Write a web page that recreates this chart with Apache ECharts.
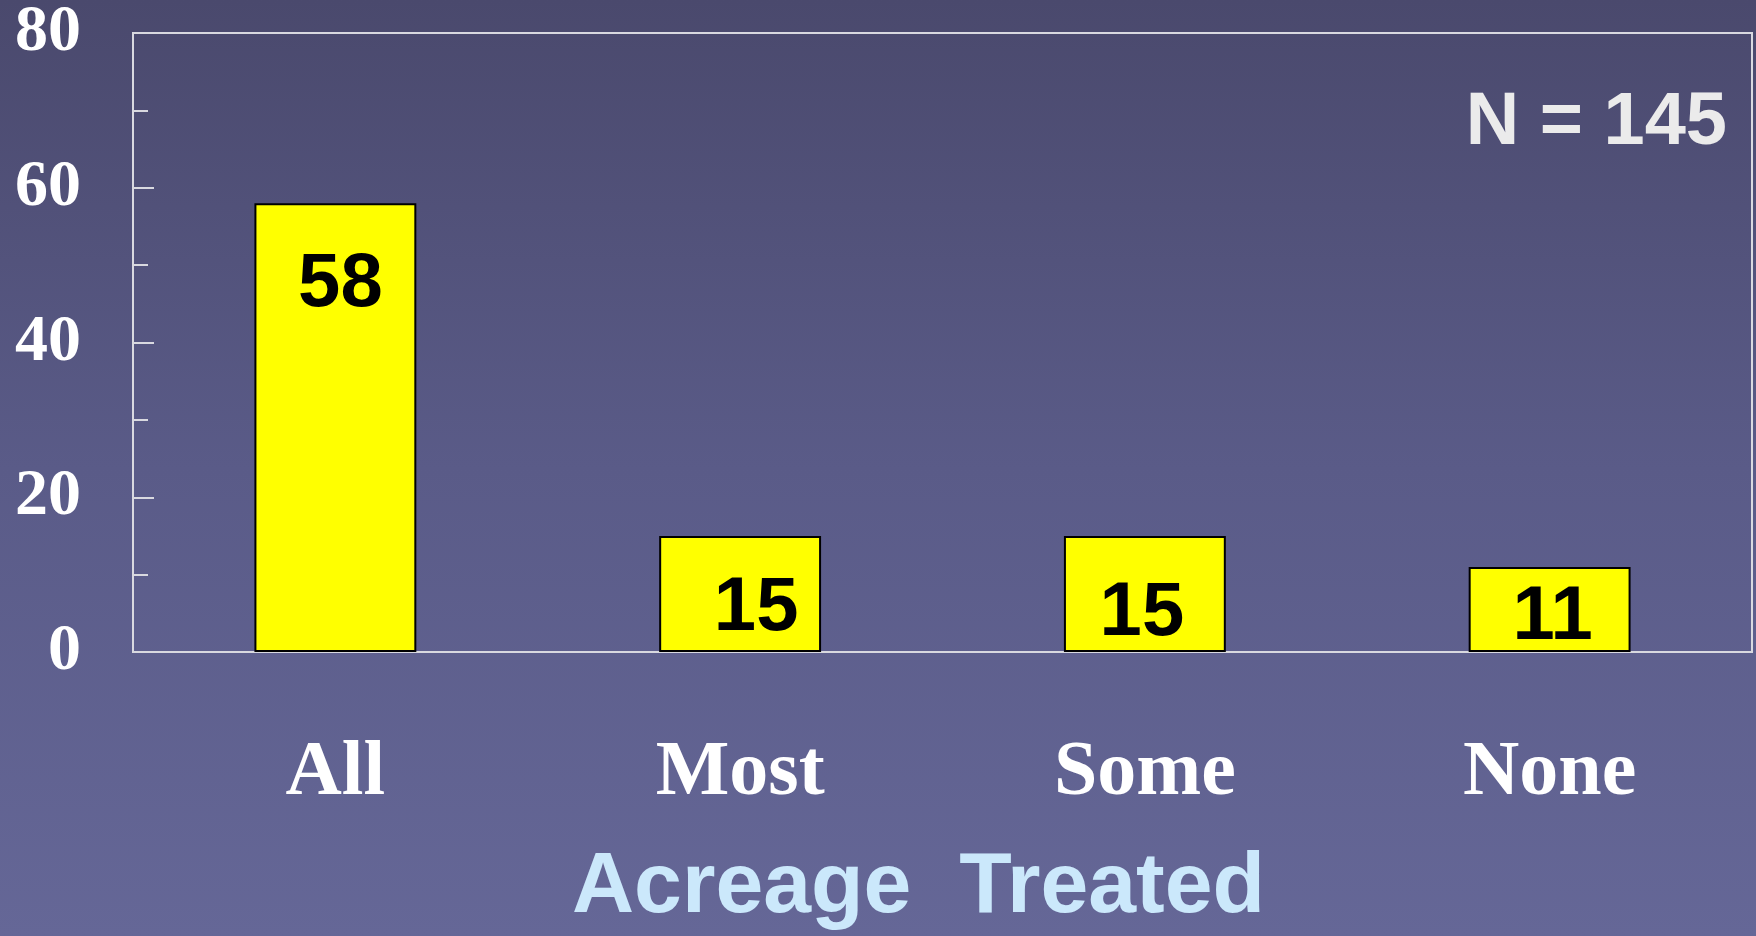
<!DOCTYPE html>
<html>
<head>
<meta charset="utf-8">
<script src="https://cdn.jsdelivr.net/npm/echarts@6/dist/echarts.min.js"></script>
<style>
  html, body { margin: 0; padding: 0; }
  #chart {
    width: 1756px; height: 936px;
    background: linear-gradient(to bottom, #4a496d 0%, #5a5b88 50%, #656797 100%);
  }
</style>
</head>
<body>
<div id="chart"></div>
<script>
// 数据
var categories = ['All', 'Most', 'Some', 'None'];
var counts = [58, 15, 15, 11];
var yTicks = [0, 20, 40, 60, 80];
var axisTitle = 'Acreage  Treated';
var nLabel = 'N = 145';

// 每根柱子上数字的位置微调
var labelOpts = [
    {position: 'insideTop', distance: 44, offset: [5, 0]},
    {position: 'inside', offset: [16, 15]},
    {position: 'inside', offset: [-3, 20]},
    {position: 'inside', offset: [3, 9]}
];

var barData = counts.map(function (v, i) {
    return {value: v, label: labelOpts[i]};
});

var chart = echarts.init(document.getElementById('chart'));
chart.setOption({
    backgroundColor: 'transparent',
    animation: false,
    grid: {
        left: 133, right: 4, top: 33, bottom: 284,
        show: true,
        borderColor: '#d9d9e0',
        borderWidth: 2
    },
    title: [{
        text: axisTitle,
        left: 572, top: 845,
        padding: 0,
        textStyle: {
            color: '#cbe8fb',
            fontFamily: 'Liberation Sans, Arial, sans-serif',
            fontWeight: 'bold',
            fontSize: 86
        }
    }, {
        text: nLabel,
        right: 24, top: 82,
        textStyle: {
            color: '#ebebeb',
            fontFamily: 'Liberation Sans, Arial, sans-serif',
            fontWeight: 'bold',
            fontSize: 74
        }
    }],
    xAxis: {
        type: 'category',
        data: categories,
        axisLine: {lineStyle: {color: '#d9d9e0', width: 2}},
        axisTick: {show: false},
        axisLabel: {
            color: '#ffffff',
            fontFamily: 'Liberation Serif, Times New Roman, serif',
            fontWeight: 'bold',
            fontSize: 78,
            margin: 83
        }
    },
    yAxis: {
        type: 'value',
        min: yTicks[0],
        max: yTicks[yTicks.length - 1],
        interval: yTicks[1] - yTicks[0],
        axisLine: {show: true, lineStyle: {color: '#d9d9e0', width: 2}},
        axisTick: {show: true, inside: true, length: 21, lineStyle: {color: '#d9d9e0', width: 2}},
        minorTick: {show: true, splitNumber: 2, length: 15, lineStyle: {color: '#d9d9e0', width: 2}},
        splitLine: {show: false},
        axisLabel: {
            color: '#ffffff',
            fontFamily: 'Liberation Serif, Times New Roman, serif',
            fontWeight: 'bold',
            fontSize: 66,
            margin: 52
        }
    },
    series: [{
        type: 'bar',
        data: barData,
        barWidth: '40%',
        itemStyle: {color: '#ffff00', borderColor: '#000000', borderWidth: 2},
        label: {
            show: true,
            color: '#000000',
            fontFamily: 'Liberation Sans, Arial, sans-serif',
            fontWeight: 'bold',
            fontSize: 76
        }
    }]
});
</script>
</body>
</html>
